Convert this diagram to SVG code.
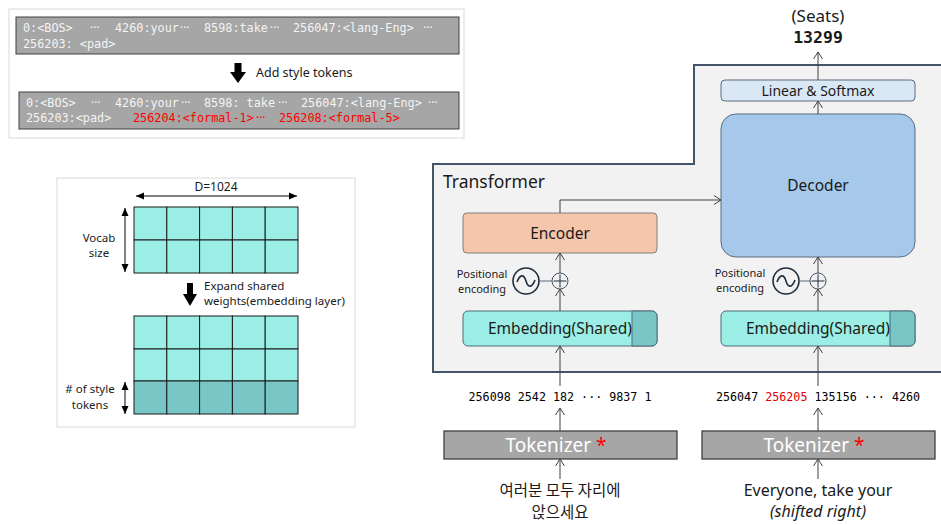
<svg xmlns="http://www.w3.org/2000/svg" width="941" height="525" viewBox="0 0 941 525">
<defs>
<marker id="ah" markerUnits="userSpaceOnUse" markerWidth="12" markerHeight="12" refX="10" refY="6" orient="auto">
<path d="M3,1.5 L10,6 L3,10.5" fill="none" stroke="#404040" stroke-width="1"/>
</marker>
<marker id="dh" markerUnits="userSpaceOnUse" markerWidth="10" markerHeight="10" refX="8" refY="5" orient="auto-start-reverse">
<path d="M0,1.5 L8,5 L0,8.5 Z" fill="#000"/>
</marker>
<style>
.sans{font-family:"Noto Sans","Open Sans","Liberation Sans",sans-serif;}
.mono{font-family:"DejaVu Sans Mono","Liberation Mono",monospace;}
.dots{font-family:"Noto Sans","Liberation Sans",sans-serif;}
.bar{fill:#a6a6a6;stroke:#404040;stroke-width:1;}
.bt{font-size:11.8px;fill:#f4f4f4;}
.red{fill:#ff0000;}
.cell{fill:#9aeee5;stroke:#1a1a1a;stroke-width:1;}
.cell2{fill:#78c6c6;stroke:#1a1a1a;stroke-width:1;}
.conn{stroke:#404040;stroke-width:1;fill:none;marker-end:url(#ah);}
.lbl{font-size:15.5px;fill:#1a1a1a;text-anchor:middle;}
.pe{font-size:11px;fill:#1a1a1a;text-anchor:middle;}
.num{font-size:11.7px;fill:#000;}
.tok{fill:#a6a6a6;stroke:#404040;stroke-width:1.3;}
.sm{font-size:11.5px;fill:#1a1a1a;}
</style>
</defs>

<!-- Top panel: vocabulary -->
<g id="vocab-panel">
<rect x="9" y="9" width="455" height="129" fill="#fff" stroke="#d9d9d9"/>
<rect class="bar" x="16" y="17" width="443" height="37"/>
<g class="mono bt">
<text x="23" y="32">0:&lt;BOS&gt;</text><text class="dots" x="90" y="32">···</text><text x="115" y="32">4260:your</text><text class="dots" x="180" y="32">···</text><text x="204" y="32">8598:take</text><text class="dots" x="270" y="32">···</text><text x="293" y="32">256047:&lt;lang-Eng&gt;</text><text class="dots" x="423" y="32">···</text>
<text x="23" y="48">256203: &lt;pad&gt;</text>
</g>
<path d="M238,63 V74" stroke="#000" stroke-width="7"/>
<path d="M230,72 H246 L238,83 Z" fill="#000"/>
<text class="sans" x="256" y="77" font-size="12.5" fill="#1a1a1a">Add style tokens</text>
<rect class="bar" x="19" y="92" width="440" height="37"/>
<g class="mono bt">
<text x="26" y="107">0:&lt;BOS&gt;</text><text class="dots" x="91" y="107">···</text><text x="115" y="107">4260:your</text><text class="dots" x="181" y="107">···</text><text x="204" y="107">8598: take</text><text class="dots" x="278" y="107">···</text><text x="301" y="107">256047:&lt;lang-Eng&gt;</text><text class="dots" x="428" y="107">···</text>
<text x="26" y="122">256203:&lt;pad&gt;</text>
<text x="133" y="122" class="red">256204:&lt;formal-1&gt;</text><text x="256" y="122" class="red dots">···</text><text x="279" y="122" class="red">256208:&lt;formal-5&gt;</text>
</g>
</g>

<!-- Middle-left panel: embedding weights -->
<g id="weights-panel">
<rect x="57" y="178" width="298" height="249" fill="#fff" stroke="#d9d9d9"/>
<text class="sans" x="216" y="191" font-size="12" fill="#1a1a1a" text-anchor="middle">D=1024</text>
<line x1="136" y1="196" x2="297" y2="196" stroke="#000" stroke-width="1" marker-start="url(#dh)" marker-end="url(#dh)"/>
<g>
<rect class="cell" x="134" y="207" width="32.8" height="33"/><rect class="cell" x="166.8" y="207" width="32.8" height="33"/><rect class="cell" x="199.6" y="207" width="32.8" height="33"/><rect class="cell" x="232.4" y="207" width="32.8" height="33"/><rect class="cell" x="265.2" y="207" width="32.8" height="33"/>
<rect class="cell" x="134" y="240" width="32.8" height="33"/><rect class="cell" x="166.8" y="240" width="32.8" height="33"/><rect class="cell" x="199.6" y="240" width="32.8" height="33"/><rect class="cell" x="232.4" y="240" width="32.8" height="33"/><rect class="cell" x="265.2" y="240" width="32.8" height="33"/>
</g>
<line x1="125" y1="208" x2="125" y2="272" stroke="#000" stroke-width="1" marker-start="url(#dh)" marker-end="url(#dh)"/>
<text class="sans sm" x="99" y="242" text-anchor="middle">Vocab</text>
<text class="sans sm" x="99" y="257" text-anchor="middle">size</text>
<path d="M190,283 V296" stroke="#000" stroke-width="6"/>
<path d="M183,294 H197 L190,306 Z" fill="#000"/>
<text class="sans sm" x="204" y="290">Expand shared</text>
<text class="sans sm" x="204" y="305">weights(embedding layer)</text>
<g>
<rect class="cell" x="134" y="316" width="32.8" height="33"/><rect class="cell" x="166.8" y="316" width="32.8" height="33"/><rect class="cell" x="199.6" y="316" width="32.8" height="33"/><rect class="cell" x="232.4" y="316" width="32.8" height="33"/><rect class="cell" x="265.2" y="316" width="32.8" height="33"/>
<rect class="cell" x="134" y="349" width="32.8" height="32"/><rect class="cell" x="166.8" y="349" width="32.8" height="32"/><rect class="cell" x="199.6" y="349" width="32.8" height="32"/><rect class="cell" x="232.4" y="349" width="32.8" height="32"/><rect class="cell" x="265.2" y="349" width="32.8" height="32"/>
<rect class="cell2" x="134" y="381" width="32.8" height="33"/><rect class="cell2" x="166.8" y="381" width="32.8" height="33"/><rect class="cell2" x="199.6" y="381" width="32.8" height="33"/><rect class="cell2" x="232.4" y="381" width="32.8" height="33"/><rect class="cell2" x="265.2" y="381" width="32.8" height="33"/>
</g>
<line x1="125" y1="382" x2="125" y2="414" stroke="#000" stroke-width="1" marker-start="url(#dh)" marker-end="url(#dh)"/>
<text class="sans sm" x="90" y="393" text-anchor="middle"># of style</text>
<text class="sans sm" x="90" y="409" text-anchor="middle">tokens</text>
</g>

<!-- Transformer container -->
<g id="transformer">
<path d="M433,164 H694 V65 H946 V372 H433 Z" fill="#f2f2f2" stroke="#44546a" stroke-width="2"/>
<text class="sans" x="443" y="188" font-size="17.5" fill="#1a1a1a">Transformer</text>
</g>

<g id="linear-softmax">
<rect x="721" y="80" width="194" height="21" rx="4" fill="#dae8f6" stroke="#5a6d80"/>
<text class="sans" x="818" y="96" font-size="14" fill="#1a1a1a" text-anchor="middle">Linear &amp; Softmax</text>
</g>
<g id="decoder">
<rect x="721" y="114" width="194" height="143" rx="15" fill="#a6c8ea" stroke="#5a6d80"/>
<text class="sans lbl" x="818" y="191">Decoder</text>
</g>
<g id="encoder">
<rect x="463" y="213" width="194" height="40" rx="4" fill="#f5c6ab" stroke="#7f7f7f"/>
<text class="sans lbl" x="560" y="239">Encoder</text>
</g>
<g id="enc-embedding">
<rect x="463" y="311" width="194" height="35" rx="5" fill="#9aeee5" stroke="#4f6b78"/>
<path d="M632,311 H652 A5,5 0 0 1 657,316 V341 A5,5 0 0 1 652,346 H632 Z" fill="#78c6c6" stroke="#4f6b78"/>
<text class="sans lbl" x="560" y="334">Embedding(Shared)</text>
</g>
<g id="dec-embedding">
<rect x="721" y="311" width="194" height="35" rx="5" fill="#9aeee5" stroke="#4f6b78"/>
<path d="M890,311 H910 A5,5 0 0 1 915,316 V341 A5,5 0 0 1 910,346 H890 Z" fill="#78c6c6" stroke="#4f6b78"/>
<text class="sans lbl" x="818" y="334">Embedding(Shared)</text>
</g>
<g id="enc-posenc">
<text class="sans pe" x="482" y="278">Positional</text>
<text class="sans pe" x="482" y="293">encoding</text>
<circle cx="526" cy="281" r="13" fill="#f2f2f2" stroke="#1f2d3d" stroke-width="1.6"/>
<path d="M517,282 C520,274 524,274 526,281 C528,288 532,288 535,280" fill="none" stroke="#1f2d3d" stroke-width="1.6"/>
<line x1="539" y1="281" x2="552" y2="281" stroke="#5a6d80"/>
<circle cx="560" cy="281" r="8" fill="#f2f2f2" stroke="#44546a"/>
<path d="M560,274.5 V287.5 M553.5,281 H566.5" stroke="#1f2d3d" stroke-width="1"/>
</g>
<g id="dec-posenc">
<text class="sans pe" x="740" y="277">Positional</text>
<text class="sans pe" x="740" y="292">encoding</text>
<circle cx="786" cy="281" r="13" fill="#f2f2f2" stroke="#1f2d3d" stroke-width="1.6"/>
<path d="M777,282 C780,274 784,274 786,281 C788,288 792,288 795,280" fill="none" stroke="#1f2d3d" stroke-width="1.6"/>
<line x1="799" y1="281" x2="810" y2="281" stroke="#5a6d80"/>
<circle cx="818" cy="281" r="8" fill="#f2f2f2" stroke="#44546a"/>
<path d="M818,274.5 V287.5 M811.5,281 H824.5" stroke="#1f2d3d" stroke-width="1"/>
</g>

<g id="output">
<text class="sans" x="818" y="22" font-size="17" fill="#1a1a1a" text-anchor="middle">(Seats)</text>
<text class="mono" x="818" y="43" font-size="16.5" font-weight="bold" fill="#1a1a1a" text-anchor="middle">13299</text>
</g>

<g id="enc-tokens">
<text class="mono num" x="560" y="401" text-anchor="middle">256098 2542 182 ··· 9837 1</text>
</g>
<g id="dec-tokens">
<text class="mono num" x="818" y="401" text-anchor="middle">256047 <tspan fill="#e00000">256205</tspan> 135156 ··· 4260</text>
</g>
<g id="enc-tokenizer">
<rect class="tok" x="444" y="431" width="233" height="28"/>
<text class="sans" x="556" y="452" font-size="19" fill="#fff" text-anchor="middle">Tokenizer <tspan fill="#ff0000">*</tspan></text>
</g>
<g id="dec-tokenizer">
<rect class="tok" x="702" y="431" width="233" height="28"/>
<text class="sans" x="814" y="452" font-size="19" fill="#fff" text-anchor="middle">Tokenizer <tspan fill="#ff0000">*</tspan></text>
</g>
<g id="enc-input">
<text x="560" y="496" font-size="15.5" fill="#1a1a1a" text-anchor="middle" font-family="'Noto Sans CJK KR','Noto Sans',sans-serif">여러분 모두 자리에</text>
<text x="560" y="518" font-size="15.5" fill="#1a1a1a" text-anchor="middle" font-family="'Noto Sans CJK KR','Noto Sans',sans-serif">앉으세요</text>
</g>
<g id="dec-input">
<text class="sans" x="818" y="496" font-size="16" fill="#1a1a1a" text-anchor="middle">Everyone, take your</text>
<text class="sans" x="818" y="517" font-size="16" font-style="italic" fill="#1a1a1a" text-anchor="middle">(shifted right)</text>
</g>

<g id="connectors">
<line class="conn" x1="560" y1="479" x2="560" y2="459"/>
<line class="conn" x1="818" y1="479" x2="818" y2="459"/>
<line class="conn" x1="560" y1="431" x2="560" y2="408"/>
<line class="conn" x1="818" y1="431" x2="818" y2="408"/>
<line class="conn" x1="560" y1="386" x2="560" y2="346"/>
<line class="conn" x1="818" y1="386" x2="818" y2="346"/>
<line class="conn" x1="560" y1="311" x2="560" y2="289"/>
<line class="conn" x1="818" y1="311" x2="818" y2="289"/>
<line class="conn" x1="560" y1="273" x2="560" y2="253"/>
<line class="conn" x1="818" y1="273" x2="818" y2="257"/>
<polyline class="conn" points="560,213 560,200 721,200"/>
<line class="conn" x1="818" y1="114" x2="818" y2="101"/>
<line class="conn" x1="818" y1="80" x2="818" y2="52"/>
</g>
</svg>
